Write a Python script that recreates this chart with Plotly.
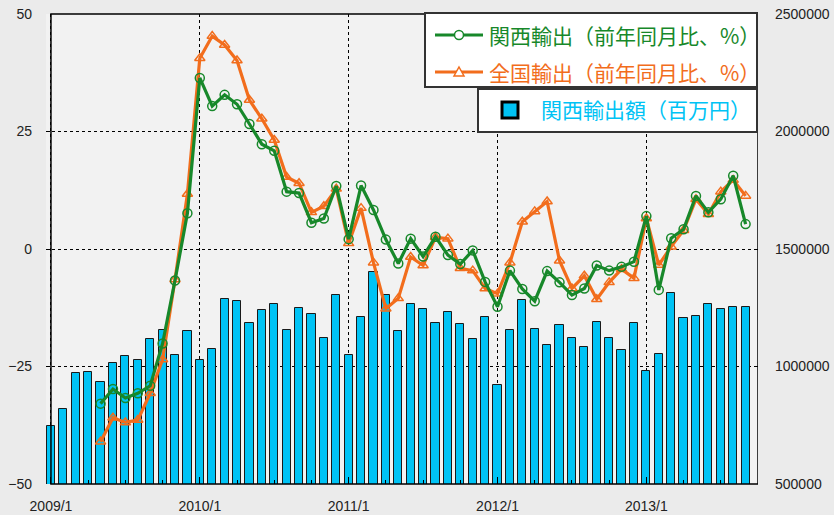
import plotly.graph_objects as go

months = [f"{y}/{m}" for y in range(2009, 2014) for m in range(1, 13)][:57]

# 関西輸出額（百万円） 2009/1 - 2013/9
kansai_exports = [
    748000, 819000, 971000, 975000, 933000, 1015000, 1043000, 1026000, 1116000, 1155000, 1049000, 1151000,
    1026000, 1073000, 1288000, 1277000, 1184000, 1239000, 1267000, 1155000, 1250000, 1222000, 1123000, 1304000,
    1049000, 1211000, 1401000, 1306000, 1150000, 1267000, 1243000, 1184000, 1233000, 1182000, 1116000, 1211000,
    921000, 1155000, 1283000, 1161000, 1093000, 1175000, 1121000, 1082000, 1189000, 1121000, 1071000, 1184000,
    982000, 1054000, 1311000, 1205000, 1216000, 1267000, 1243000, 1254000, 1254000,
]

# 前年同月比（%） 2009/5 - 2013/9
line_months = months[4:]
kansai_yoy = [
    -32.9, -29.8, -31.7, -30.7, -29.1, -20.1, -6.7, 7.6,
    36.4, 30.4, 32.8, 30.8, 26.6, 22.3, 20.9, 12.2, 11.9, 5.6, 6.5, 13.4,
    2.1, 13.5, 8.3, 2.0, -3.1, 2.2, -1.6, 2.6, -1.3, -3.2, -0.3, -7.0,
    -12.3, -4.6, -8.5, -11.1, -4.7, -7.1, -9.8, -8.4, -3.5, -4.6, -3.8, -2.7,
    7.0, -8.7, 2.3, 4.2, 11.3, 7.8, 10.6, 15.6, 5.3,
]
national_yoy = [
    -41.0, -35.9, -36.9, -36.4, -30.7, -23.5, -6.5, 11.7,
    40.6, 45.3, 43.4, 40.1, 31.7, 27.7, 23.2, 15.3, 14.0, 7.8, 9.1, 12.8,
    1.2, 8.7, -2.9, -12.7, -10.5, -1.7, -3.5, 2.5, 2.2, -4.1, -4.6, -8.4,
    -9.5, -2.9, 5.8, 8.0, 10.1, -2.5, -8.4, -5.7, -10.7, -7.1, -4.3, -6.2,
    6.5, -3.4, 0.5, 4.0, 10.6, 7.4, 12.2, 14.7, 11.3,
]

year_ticks = ["2009/1", "2010/1", "2011/1", "2012/1", "2013/1"]

NAME_KANSAI = "関西輸出（前年同月比、%）"
NAME_NATIONAL = "全国輸出（前年同月比、%）"
NAME_BAR = "関西輸出額（百万円）"

GREEN = "#17882a"
ORANGE = "#f26d1c"
CYAN = "#00c3f5"
FONT = "Noto Sans CJK JP"
TICKFONT = "Liberation Sans"

W, H = 834, 515
ML, MR, MT, MB = 46, 76, 14, 31
PW, PH = W - ML - MR, H - MT - MB


def px(x):
    return (x - ML) / PW


def py(y):
    return 1 - (y - MT) / PH


idx = {m: i for i, m in enumerate(months)}
x_bar = [idx[m] for m in months]
x_line = [idx[m] for m in line_months]

fig = go.Figure()

fig.add_trace(go.Bar(
    x=x_bar, y=kansai_exports, yaxis="y", width=0.66,
    marker=dict(color=CYAN, line=dict(color="#1a1a1a", width=1)),
    showlegend=False, name=NAME_BAR,
))
fig.add_trace(go.Scatter(
    x=x_line, y=national_yoy, yaxis="y2", mode="lines+markers",
    line=dict(color=ORANGE, width=3.2),
    marker=dict(symbol="triangle-up-open", size=9, color=ORANGE, line=dict(width=1.5, color=ORANGE)),
    name=NAME_NATIONAL, showlegend=False,
))
fig.add_trace(go.Scatter(
    x=x_line, y=kansai_yoy, yaxis="y2", mode="lines+markers",
    line=dict(color=GREEN, width=3.2),
    marker=dict(symbol="circle-open", size=9, color=GREEN, line=dict(width=1.5, color=GREEN)),
    name=NAME_KANSAI, showlegend=False,
))
fig.add_trace(go.Scatter(
    x=[None], y=[None], yaxis="y2", mode="markers",
    marker=dict(symbol="square", size=16, color=CYAN, line=dict(color="black", width=3)),
    name=f"<span style='color:{CYAN}'>{NAME_BAR}</span>",
    legend="legend2", showlegend=True,
))

n = len(months)

# hand-built legend box for the two line series
shapes = [
    dict(type="rect", xref="x", yref="paper", x0=0, x1=n, y0=0, y1=1,
         line=dict(color="black", width=1.5), layer="above"),
    dict(type="rect", xref="paper", yref="paper", x0=px(425), x1=px(757), y0=py(87), y1=py(13),
         fillcolor="white", line=dict(color="#333333", width=2), layer="above"),
    dict(type="line", xref="paper", yref="paper", x0=px(435), x1=px(483), y0=py(35), y1=py(35),
         line=dict(color=GREEN, width=3.2), layer="above"),
    dict(type="circle", xref="paper", yref="paper", x0=px(454.5), x1=px(463.5), y0=py(39.5), y1=py(30.5),
         fillcolor="white", line=dict(color=GREEN, width=1.5), layer="above"),
    dict(type="line", xref="paper", yref="paper", x0=px(435), x1=px(483), y0=py(72), y1=py(72),
         line=dict(color=ORANGE, width=3.2), layer="above"),
    dict(type="path", xref="paper", yref="paper",
         path=f"M{px(459)},{py(67)} L{px(464)},{py(76)} L{px(454)},{py(76)} Z",
         fillcolor="white", line=dict(color=ORANGE, width=1.5), layer="above"),
]
annotations = [
    dict(x=px(487), y=py(35), xref="paper", yref="paper", xanchor="left", yanchor="middle",
         text=NAME_KANSAI, showarrow=False, font=dict(family=FONT, size=21, color=GREEN)),
    dict(x=px(487), y=py(72), xref="paper", yref="paper", xanchor="left", yanchor="middle",
         text=NAME_NATIONAL, showarrow=False, font=dict(family=FONT, size=21, color=ORANGE)),
]

fig.update_layout(
    width=W, height=H,
    margin=dict(l=ML, r=MR, t=MT, b=MB, autoexpand=False),
    paper_bgcolor="#ebebeb",
    plot_bgcolor="#f2f2f2",
    font=dict(family=TICKFONT, size=14, color="#222222"),
    bargap=0,
    xaxis=dict(
        range=[-0.4, n], tickmode="array", automargin=False,
        tickvals=[idx[m] for m in year_ticks], ticktext=year_ticks,
        showgrid=True, gridcolor="black", griddash="dot", gridwidth=1,
        ticks="inside", ticklen=7, tickcolor="black",
        minor=dict(tickvals=list(range(0, n + 1, 3)), ticks="inside", ticklen=4, tickcolor="black", showgrid=False),
        showline=False, zeroline=False, mirror=False,
        ticklabelstandoff=12, tickfont=dict(size=14),
    ),
    yaxis=dict(
        range=[500000, 2500000], side="right", tickmode="array", automargin=False,
        tickvals=[500000, 1000000, 1500000, 2000000, 2500000],
        showgrid=True, gridcolor="black", griddash="dot", gridwidth=1,
        ticks="inside", ticklen=4, tickcolor="black",
        showline=False, zeroline=False, ticklabelstandoff=16,
        tickformat="d", tickfont=dict(size=14),
    ),
    yaxis2=dict(
        range=[-50, 50], overlaying="y", side="left", tickmode="array", automargin=False,
        tickvals=[-50, -25, 0, 25, 50],
        showgrid=False, zeroline=False, showline=False,
        ticks="inside", ticklen=4, tickcolor="black",
        ticklabelstandoff=13, tickfont=dict(size=14),
    ),
    legend2=dict(
        x=1.0, xanchor="right", y=0.843, yanchor="top",
        bgcolor="white", bordercolor="#333333", borderwidth=2,
        font=dict(family=FONT, size=21), itemwidth=52,
    ),
    shapes=shapes,
    annotations=annotations,
)

fig.write_html(
    "out.html",
    config={"displayModeBar": False},
    post_script="document.body.style.margin='0';document.body.style.background='#ebebeb';",
)
